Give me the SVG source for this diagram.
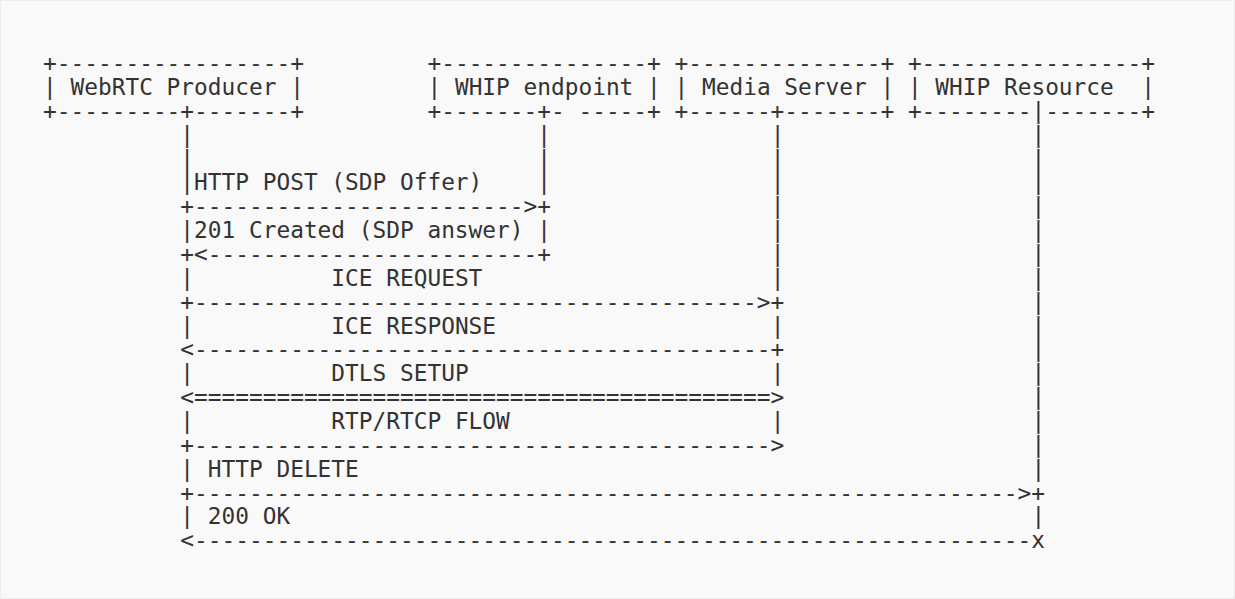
<svg xmlns="http://www.w3.org/2000/svg" width="1235" height="599" viewBox="0 0 1235 599" xml:space="preserve">
<style>
.t{font-family:"DejaVu Sans Mono","Liberation Mono",monospace;font-size:22.8px;fill:#333333;white-space:pre}
</style>
<rect x="0.5" y="0.5" width="1234" height="598" fill="#f9f9f9" stroke="#ededed"/>
<g id="webrtc-producer">
<text class="t" x="43.1" y="71.2">+-----------------+</text>
<text class="t" x="43.1" y="95.05">| WebRTC Producer |</text>
<text class="t" x="43.1" y="118.9">+---------+-------+</text>
</g>
<g id="whip-endpoint">
<text class="t" x="427.46" y="71.2">+---------------+</text>
<text class="t" x="427.46" y="95.05">| WHIP endpoint |</text>
<text class="t" x="427.46" y="118.9">+-------+- -----+</text>
</g>
<g id="media-server">
<text class="t" x="674.54" y="71.2">+--------------+</text>
<text class="t" x="674.54" y="95.05">| Media Server |</text>
<text class="t" x="674.54" y="118.9">+------+-------+</text>
</g>
<g id="whip-resource">
<text class="t" x="907.9" y="71.2">+----------------+</text>
<text class="t" x="907.9" y="95.05">| WHIP Resource  |</text>
<text class="t" x="907.9" y="118.9">+--------|-------+</text>
</g>
<g id="connectors">
<!-- row 3 -->
<text class="t" x="180.37" y="142.75">|</text><text class="t" x="537.27" y="142.75">|</text><text class="t" x="770.63" y="142.75">|</text><text class="t" x="1031.44" y="142.75">|</text>
<!-- row 4 -->
<text class="t" x="180.37" y="166.6">|</text><text class="t" x="537.27" y="166.6">|</text><text class="t" x="770.63" y="166.6">|</text><text class="t" x="1031.44" y="166.6">|</text>
<!-- row 5 -->
<text class="t" x="180.37" y="190.45">|HTTP POST (SDP Offer)</text><text class="t" x="537.27" y="190.45">|</text><text class="t" x="770.63" y="190.45">|</text><text class="t" x="1031.44" y="190.45">|</text>
<!-- row 6 -->
<text class="t" x="180.37" y="214.3">+------------------------&gt;+</text><text class="t" x="770.63" y="214.3">|</text><text class="t" x="1031.44" y="214.3">|</text>
<!-- row 7 -->
<text class="t" x="180.37" y="238.15">|201 Created (SDP answer) |</text><text class="t" x="770.63" y="238.15">|</text><text class="t" x="1031.44" y="238.15">|</text>
<!-- row 8 -->
<text class="t" x="180.37" y="262">+&lt;------------------------+</text><text class="t" x="770.63" y="262">|</text><text class="t" x="1031.44" y="262">|</text>
<!-- row 9 -->
<text class="t" x="180.37" y="285.85">|</text><text class="t" x="331.37" y="285.85">ICE REQUEST</text><text class="t" x="770.63" y="285.85">|</text><text class="t" x="1031.44" y="285.85">|</text>
<!-- row 10 -->
<text class="t" x="180.37" y="309.7">+-----------------------------------------&gt;+</text><text class="t" x="1031.44" y="309.7">|</text>
<!-- row 11 -->
<text class="t" x="180.37" y="333.55">|</text><text class="t" x="331.37" y="333.55">ICE RESPONSE</text><text class="t" x="770.63" y="333.55">|</text><text class="t" x="1031.44" y="333.55">|</text>
<!-- row 12 -->
<text class="t" x="180.37" y="357.4">&lt;------------------------------------------+</text><text class="t" x="1031.44" y="357.4">|</text>
<!-- row 13 -->
<text class="t" x="180.37" y="381.25">|</text><text class="t" x="331.37" y="381.25">DTLS SETUP</text><text class="t" x="770.63" y="381.25">|</text><text class="t" x="1031.44" y="381.25">|</text>
<!-- row 14 -->
<text class="t" x="180.37" y="405.1">&lt;==========================================&gt;</text><text class="t" x="1031.44" y="405.1">|</text>
<!-- row 15 -->
<text class="t" x="180.37" y="428.95">|</text><text class="t" x="331.37" y="428.95">RTP/RTCP FLOW</text><text class="t" x="770.63" y="428.95">|</text><text class="t" x="1031.44" y="428.95">|</text>
<!-- row 16 -->
<text class="t" x="180.37" y="452.8">+------------------------------------------&gt;</text><text class="t" x="1031.44" y="452.8">|</text>
<!-- row 17 -->
<text class="t" x="180.37" y="476.65">| HTTP DELETE</text><text class="t" x="1031.44" y="476.65">|</text>
<!-- row 18 -->
<text class="t" x="180.37" y="500.5">+------------------------------------------------------------&gt;+</text>
<!-- row 19 -->
<text class="t" x="180.37" y="524.35">| 200 OK</text><text class="t" x="1031.44" y="524.35">|</text>
<!-- row 20 -->
<text class="t" x="180.37" y="548.2">&lt;-------------------------------------------------------------x</text>
</g>
</svg>
